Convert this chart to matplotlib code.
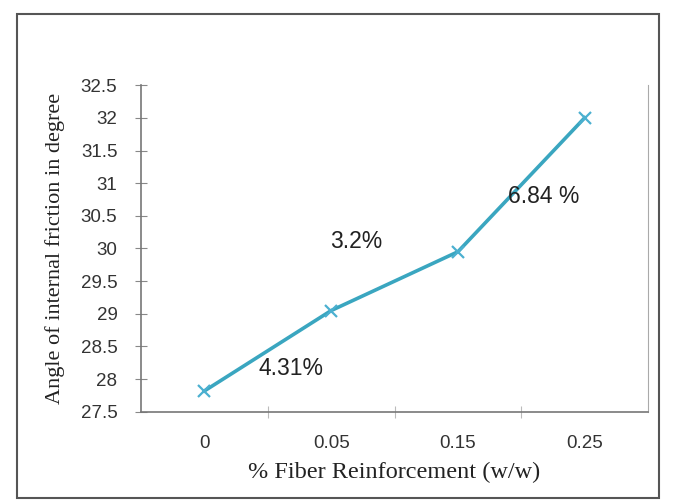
import matplotlib.pyplot as plt
from matplotlib.patches import Rectangle

# Friction angle vs fiber content
fiber_labels = ["0", "0.05", "0.15", "0.25"]
friction_angle = [27.82, 29.05, 29.95, 32.0]

# Percent increase labels between neighbouring points
gain_labels = ["4.31%", "3.2%", "6.84 %"]
gain_x = [0.68, 1.2, 2.68]
gain_y = [28.17, 30.1, 30.79]

LINE_COLOR = "#3aa6c0"
TICK_COLOR = "#333333"

fig = plt.figure(figsize=(6.75, 5.01), dpi=100)
ax = fig.add_axes([0.209, 0.178, 0.751, 0.652])

xs = list(range(len(fiber_labels)))
ax.plot(xs, friction_angle, color=LINE_COLOR, linewidth=2.6,
        marker="x", markersize=9, markeredgewidth=1.6, markeredgecolor="#4bb0d0")

for text, x, y in zip(gain_labels, gain_x, gain_y):
    ax.text(x, y, text, ha="center", va="center", fontsize=16.5,
            family="Liberation Sans", color="#222222")

ax.set_xlim(-0.5, len(fiber_labels) - 0.5)
ax.set_ylim(27.5, 32.5)
ax.set_yticks([27.5 + 0.5 * i for i in range(11)])
ax.set_yticklabels([f"{27.5 + 0.5 * i:g}" for i in range(11)])
ax.set_xticks(xs)
ax.set_xticklabels(fiber_labels)
ax.set_xticks([0.5, 1.5, 2.5], minor=True)

ax.tick_params(axis="y", direction="inout", length=8, width=0.8, color="#888888",
               labelsize=13.5, labelcolor=TICK_COLOR, pad=13)
ax.tick_params(axis="x", which="major", length=0, labelsize=13.5,
               labelcolor=TICK_COLOR, pad=17)
ax.tick_params(axis="x", which="minor", direction="inout", length=8, width=0.8,
               color="#bbbbbb")
for lbl in ax.get_xticklabels() + ax.get_yticklabels():
    lbl.set_family("Liberation Sans")

ax.spines["top"].set_visible(False)
ax.spines["left"].set_color("#777777")
ax.spines["bottom"].set_color("#777777")
ax.spines["right"].set_color("#aaaaaa")
ax.spines["left"].set_linewidth(1.2)
ax.spines["bottom"].set_linewidth(1.2)

ax.set_ylabel("Angle of internal friction in degree", family="Liberation Serif",
              fontsize=16, color="#222222", labelpad=11)
ax.set_xlabel("% Fiber Reinforcement (w/w)", family="Liberation Serif",
              fontsize=17.5, color="#222222", labelpad=7)

# outer frame around the whole chart
fig.patches.append(Rectangle((17 / 675, 3 / 501), 642 / 675, 484 / 501,
                             transform=fig.transFigure, fill=False,
                             edgecolor="#555555", linewidth=1.5))

fig.savefig("out.png", dpi=100)
